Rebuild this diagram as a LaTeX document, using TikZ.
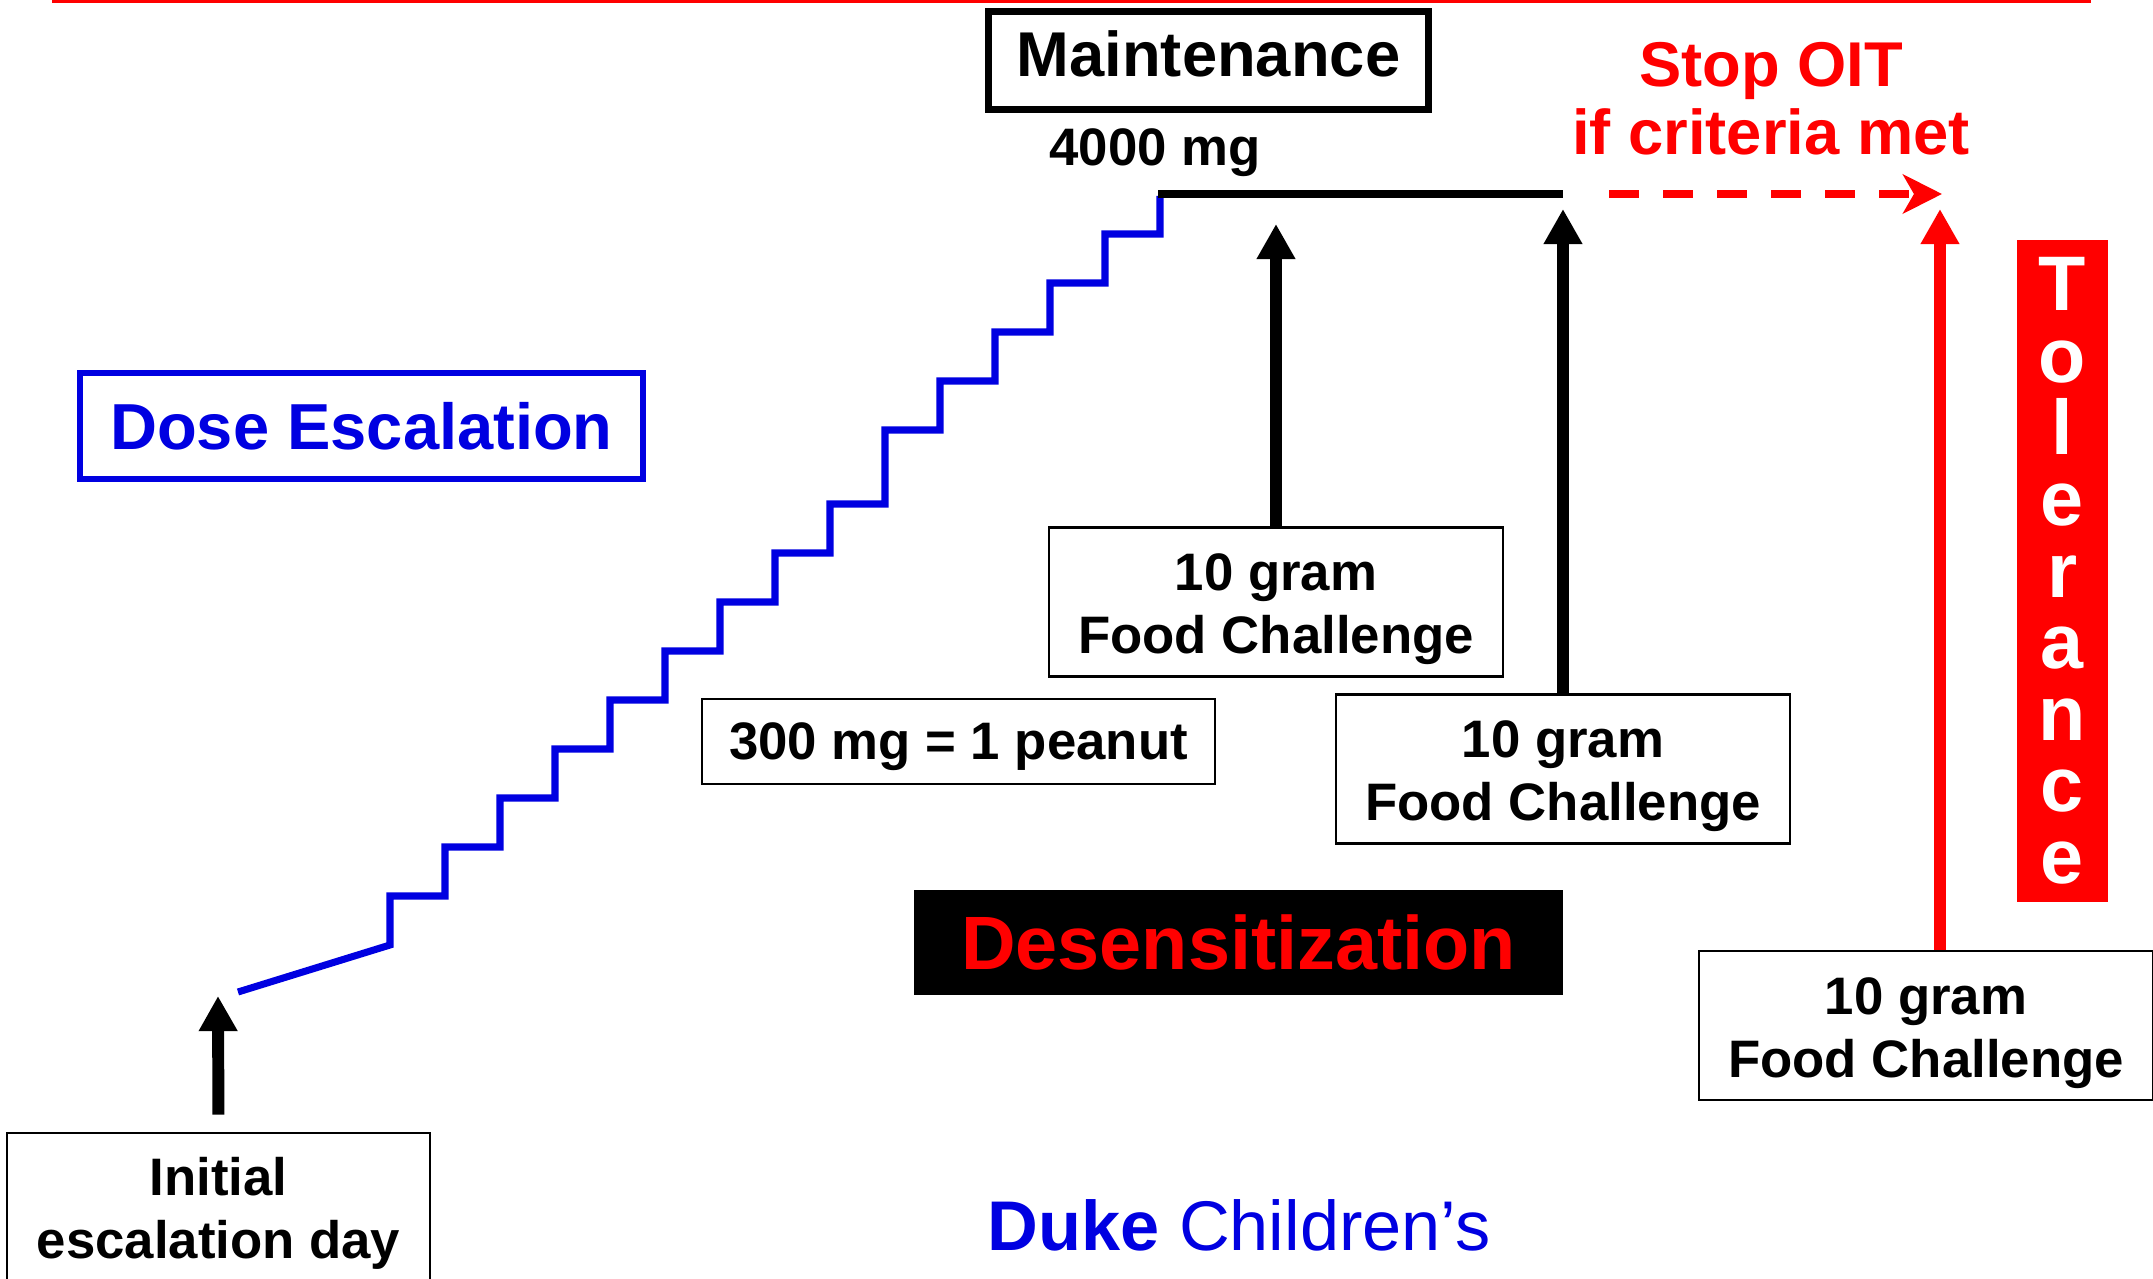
\documentclass[tikz,border=0pt]{standalone}
\usepackage{fontspec}
\setmainfont{Liberation Sans}
\usetikzlibrary{arrows.meta}
\definecolor{dukeblue}{RGB}{0,0,225}

\begin{document}
\begin{tikzpicture}[x=0.01cm, y=-0.01cm, thick,
  box/.style = {draw, line width=0.7pt, inner sep=0pt, align=center, font=\fontsize{15}{17.9}\selectfont\bfseries, text depth=3.2pt},
  fc/.style = {box, minimum width=4.54cm, minimum height=1.49cm, text height=32.5pt},
  up/.style = {line width=3.4pt, -{Triangle[width=10.4pt,length=10pt]}}]
  \useasboundingbox (0,0) rectangle (2153,1279);
  \coordinate (r1) at (52,1.5);
  \coordinate (r2) at (2091,1.5);
  \draw[red, line width=0.6pt] (r1) -- (r2);

  \node[draw, line width=2pt, minimum width=4.40cm, minimum height=0.98cm, inner sep=0pt, font=\fontsize{18}{20}\selectfont\bfseries] (maint) at (1208.5,60.5) {Maintenance\rule[-4pt]{0pt}{0pt}};
  \node[anchor=base, font=\fontsize{15}{18}\selectfont\bfseries] (dose4000) at (1155,166) {4000 mg};
  \node[red, align=center, font=\fontsize{18}{19.4}\selectfont\bfseries] (stop) at (1771,99) {Stop OIT\\if criteria met};
  \node[draw=dukeblue, text=dukeblue, line width=1.8pt, minimum width=5.63cm, minimum height=1.06cm, inner sep=0pt, font=\fontsize{18.5}{20}\selectfont\bfseries] (esc) at (361.5,426) {Dose Escalation};
  \node[fc] (fc1) at (1276,602) {10 gram\\Food Challenge};
  \node[fc] (fc2) at (1563,769) {10 gram\\Food Challenge};
  \node[fc] (fc3) at (1926,1025.5) {10 gram\\Food Challenge};
  \node[box, minimum width=5.13cm, minimum height=0.85cm, text height=13.5pt] (peanut) at (958.5,741.5) {300 mg = 1 peanut};
  \node[box, minimum width=4.23cm, minimum height=1.51cm, text height=31.4pt] (init) at (218.5,1208.5) {Initial\\escalation day};
  \node[fill=black, text=red, minimum width=6.49cm, minimum height=1.05cm, inner sep=0pt, font=\fontsize{21.5}{24}\selectfont\bfseries] (desens) at (1238.5,942.5) {Desensitization};
  \node[fill=red, text=white, align=center, minimum width=0.91cm, minimum height=6.62cm, inner sep=0pt, font=\fontsize{22}{20.35}\selectfont\bfseries] (tol) at (2062.5,571) {T\\o\\l\\e\\r\\a\\n\\c\\e};
  \node[text=dukeblue, font=\fontsize{20}{22}\selectfont] (duke) at (1239,1225) {\textbf{Duke} Children’s};

  \coordinate (s0) at (238,992);
  \coordinate (m1) at (1158,194);
  \coordinate (m2) at (1563,194);
  \coordinate (d1) at (1609,194);
  \coordinate (d2) at (1942,194);
  \coordinate (tipI) at (218,996);
  \coordinate (tipA) at (1276,224);
  \coordinate (tipB) at (1563,209);
  \coordinate (tipC) at (1940,209);

  % dose steps
  \draw[dukeblue, line width=2pt] (s0) -- (390,945) -- (390,896) -- (445,896) -- (445,847) -- (500,847)
    -- (500,798) -- (555,798) -- (555,749) -- (610,749) -- (610,700) -- (665,700) -- (665,651)
    -- (720,651) -- (720,602) -- (775,602) -- (775,553) -- (830,553) -- (830,504) -- (885,504)
    -- (885,430) -- (940,430) -- (940,381) -- (995,381) -- (995,332) -- (1050,332) -- (1050,283)
    -- (1105,283) -- (1105,234) -- (1160,234) -- (1160,196);
  \draw[line width=2.2pt] (m1) -- (m2);
  \draw[red, line width=2.1pt, dash pattern=on 0.3cm off 0.24cm, -{Stealth[length=0.39cm,width=0.39cm,inset=0.11cm]}] (d1) -- (d2);

  \draw[up, shorten <=0.17cm] (init.north) -- (tipI);
  \draw[up] (fc1.north) -- (tipA);
  \draw[up] (fc2.north) -- (tipB);
  \draw[up, red] (tipC |- fc3.north) -- (tipC);
\end{tikzpicture}
\end{document}
